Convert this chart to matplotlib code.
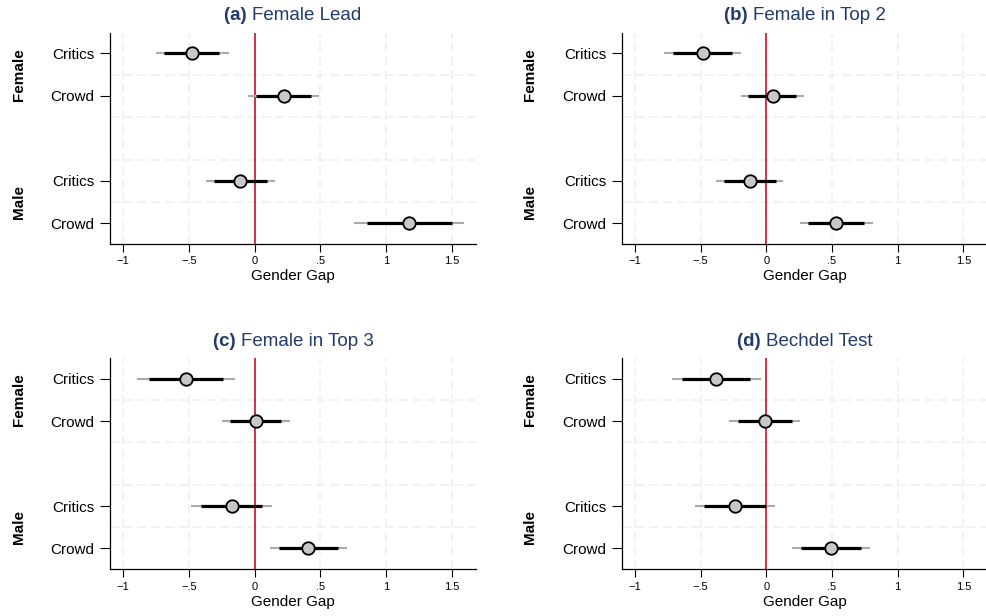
import matplotlib
matplotlib.use("Agg")
import matplotlib.pyplot as plt

plt.rcParams['font.family'] = ['Liberation Sans', 'DejaVu Sans']

# row labels (top to bottom) and their y slots
row_labels = ['Critics', 'Crowd', 'Critics', 'Crowd']
row_pos = [1, 2, 4, 5]
groups = ['Female', 'Male']
group_pos = [1.5, 4.5]

panel_letters = ['(a)', '(b)', '(c)', '(d)']
panel_titles = ['Female Lead', 'Female in Top 2', 'Female in Top 3', 'Bechdel Test']

# point estimates per panel (Female Critics, Female Crowd, Male Critics, Male Crowd)
est = [
    [-0.473, 0.221, -0.109, 1.178],
    [-0.483, 0.048, -0.127, 0.534],
    [-0.523, 0.013, -0.175, 0.409],
    [-0.380, -0.013, -0.238, 0.493],
]
# inner (thick) interval
lo90 = [
    [-0.687, 0.013, -0.308, 0.853],
    [-0.708, -0.137, -0.321, 0.319],
    [-0.802, -0.185, -0.411, 0.183],
    [-0.638, -0.215, -0.473, 0.268],
]
hi90 = [
    [-0.267, 0.430, 0.094, 1.500],
    [-0.258, 0.230, 0.071, 0.744],
    [-0.241, 0.203, 0.056, 0.632],
    [-0.121, 0.197, -0.003, 0.721],
]
# outer (thin) interval
lo95 = [
    [-0.750, -0.048, -0.371, 0.756],
    [-0.777, -0.195, -0.382, 0.253],
    [-0.893, -0.244, -0.482, 0.114],
    [-0.719, -0.281, -0.544, 0.195],
]
hi95 = [
    [-0.195, 0.494, 0.158, 1.595],
    [-0.190, 0.286, 0.129, 0.812],
    [-0.150, 0.266, 0.132, 0.703],
    [-0.040, 0.258, 0.066, 0.789],
]

xticks = [-1, -0.5, 0, 0.5, 1, 1.5]
xtick_labels = ['\u22121', '\u2212.5', '0', '.5', '1', '1.5']

W, H = 987, 616
fig = plt.figure(figsize=(W / 100, H / 100), dpi=100)
rend = fig.canvas.get_renderer()

# axes boxes in pixels: left, top, right, bottom
boxes = [(110, 33, 476, 244), (621.7, 33, 987.7, 244),
         (110, 358.3, 476, 569.3), (621.7, 358.3, 987.7, 569.3)]

navy = '#233a6b'
for k in range(4):
    l, t, r, b = boxes[k]
    ax = fig.add_axes([l / W, 1 - b / H, (r - l) / W, (b - t) / H])
    ax.set_xlim(-1.1, 1.685)
    ax.set_ylim(5.49, 0.52)

    # light dashed grid
    for gx in xticks:
        ax.axvline(gx, color='#efefef', lw=1.1, ls=(0, (6, 3)), zorder=0)
    for gy in [1.5, 2.5, 3.5, 4.5]:
        ax.axhline(gy, color='#efefef', lw=1.1, ls=(0, (6, 3)), zorder=0)

    ax.axvline(0, color='#c8102e', lw=1.2, zorder=1)

    ax.hlines(row_pos, lo95[k], hi95[k], color='#aaaaaa', lw=1.5, zorder=2)
    ax.hlines(row_pos, lo90[k], hi90[k], color='black', lw=2.3, zorder=3)
    ax.plot(est[k], row_pos, 'o', ms=9, mfc='#c8c8c8', mec='black', mew=1.3,
            ls='none', zorder=4)

    ax.set_yticks(row_pos)
    ax.set_yticklabels(row_labels, fontsize=11)
    ax.set_xticks(xticks)
    ax.set_xticklabels(xtick_labels, fontsize=8)
    ax.tick_params(axis='y', length=7, width=0.8, pad=4)
    ax.tick_params(axis='x', length=6, width=0.8, pad=3)
    ax.set_xlabel('Gender Gap', fontsize=11, labelpad=2)

    for s in ['top', 'right']:
        ax.spines[s].set_visible(False)
    for s in ['left', 'bottom']:
        ax.spines[s].set_linewidth(0.9)

    for g, gp in zip(groups, group_pos):
        ax.text(-0.25, gp, g, transform=ax.get_yaxis_transform(),
                rotation=90, ha='center', va='center', fontsize=11,
                fontweight='bold')

    # title: bold letter then normal text, centred together over the axes
    cx = (l + r) / 2 / W
    ty = 1 - (t - 17) / H
    t1 = fig.text(0, ty, panel_letters[k] + ' ', fontsize=13.5, color=navy,
                  fontweight='bold', va='center')
    t2 = fig.text(0, ty, panel_titles[k], fontsize=13.5, color=navy,
                  va='center')
    w1 = t1.get_window_extent(rend).width / W
    w2 = t2.get_window_extent(rend).width / W
    x0 = cx - (w1 + w2) / 2
    t1.set_x(x0)
    t2.set_x(x0 + w1)

fig.savefig('out.png', dpi=100)
